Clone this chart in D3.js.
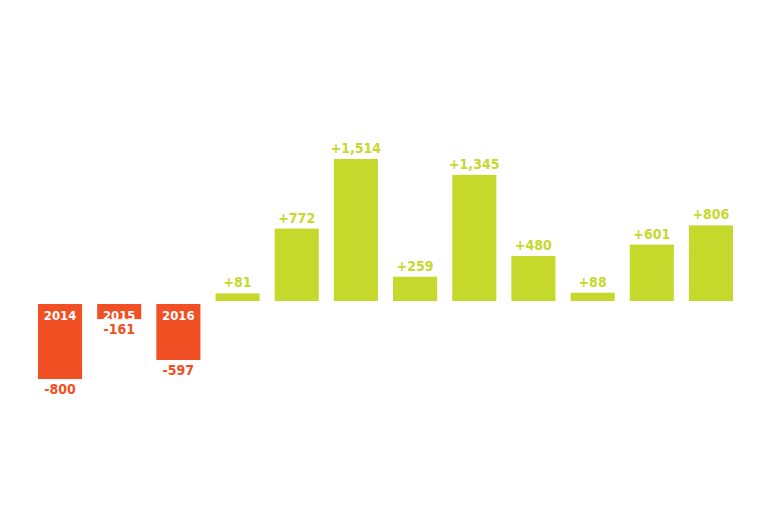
<!DOCTYPE html>
<html><head><meta charset="utf-8">
<script src="https://cdn.jsdelivr.net/npm/d3@7"></script>
<style>body{margin:0;background:#fff}</style></head>
<body><svg id="c" width="768" height="512"></svg>
<script>
const years = [2014,2015,2016,2017,2018,2019,2020,2021,2022,2023,2024,2025];
const values = [-800,-161,-597,81,772,1514,259,1345,480,88,601,806];
const svg = d3.select("#c");
const font = "'DejaVu Sans Condensed','DejaVu Sans',sans-serif";
const x = d3.scaleBand().domain(years).range([38, 733]).paddingInner(0.255).paddingOuter(0);
const y = d3.scaleLinear().domain([0, 1514]).range([301, 159]);
const gap = 3;
const defs = svg.append("defs");
const g = svg.append("g");
years.forEach((yr, i) => {
  const v = values[i];
  const neg = v < 0;
  const bx = x(yr), bw = x.bandwidth();
  const top = neg ? y(0) + gap : y(v);
  const h = neg ? (y(v) - y(0)) : (y(0) - y(v));
  const col = neg ? "#F05023" : "#C5D92D";
  g.append("rect").attr("x", bx).attr("y", top).attr("width", bw).attr("height", h).attr("fill", col);
  const lab = (v > 0 ? "+" : "") + d3.format(",")(v).replace("−","-");
  g.append("text").attr("x", bx + bw/2).attr("y", neg ? top + h + 15 : top - 6)
    .attr("text-anchor","middle").attr("font-family", font).attr("font-weight","bold")
    .attr("font-size", 14).attr("fill", col).text(lab);
  if (neg) {
    defs.append("clipPath").attr("id","cp"+i).append("rect").attr("x",bx).attr("y",top).attr("width",bw).attr("height",h);
    g.append("text").attr("clip-path","url(#cp"+i+")").attr("x", bx + bw/2).attr("y", top + 16)
      .attr("text-anchor","middle").attr("font-family", font).attr("font-weight","bold")
      .attr("font-size", 13).attr("fill", "#fff").text(yr);
  }
});
</script></body></html>
